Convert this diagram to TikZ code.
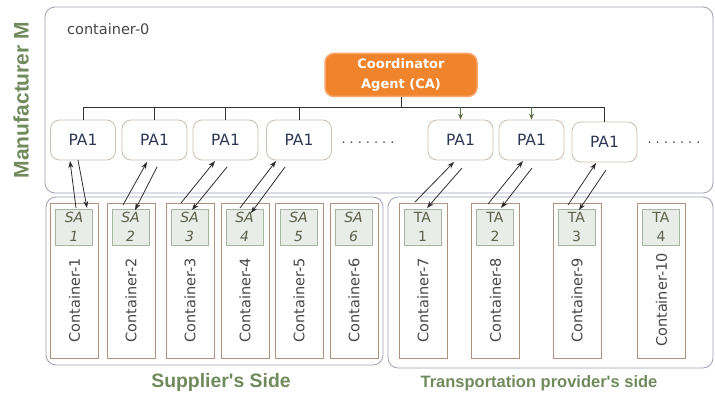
\documentclass[tikz,border=0pt]{standalone}
\usepackage{fontspec}
\setmainfont{DejaVu Sans}
\newfontfamily\lblfont{Liberation Sans}
\usetikzlibrary{calc,arrows.meta}
\definecolor{framegray}{RGB}{160,160,180}
\definecolor{paborder}{RGB}{205,190,178}
\definecolor{contborder}{RGB}{175,145,125}
\definecolor{agfill}{RGB}{232,237,232}
\definecolor{agborder}{RGB}{165,180,160}
\definecolor{caorange}{RGB}{240,132,45}
\definecolor{caborder}{RGB}{250,165,105}
\definecolor{lblgreen}{RGB}{112,138,92}
\definecolor{txtblue}{RGB}{45,55,85}
\definecolor{txtgray}{RGB}{70,70,70}
\definecolor{agtxt}{RGB}{95,95,75}
\definecolor{arrgray}{RGB}{45,45,45}
\definecolor{busgreen}{RGB}{95,115,75}
\tikzset{
  frame/.style={draw=framegray, line width=0.8pt, rounded corners=10pt},
  pabox/.style={draw=paborder, fill=white, line width=0.8pt, rounded corners=9pt,
    minimum width=65pt, minimum height=40pt, inner sep=0pt, font=\fontsize{15.5}{17}\selectfont, text=txtblue},
  contbox/.style={draw=contborder, line width=0.8pt, minimum width=48pt, minimum height=155pt, inner sep=0pt},
  agbox/.style={draw=agborder, fill=agfill, line width=0.6pt, minimum width=37pt, minimum height=36pt,
    inner sep=0pt, align=center, text=agtxt},
  contlbl/.style={rotate=90, font=\fontsize{14.5}{16}\selectfont, text=txtgray, inner sep=0pt},
  dotsstyle/.style={font=\fontsize{13}{15}\selectfont, text=txtgray, inner sep=0pt},
  agarr/.style={draw=arrgray, line width=0.8pt, -{Stealth[length=7pt,width=5pt]}},
  busline/.style={draw=black!80, line width=0.8pt},
  busarr/.style={draw=busgreen, line width=0.8pt, -{Stealth[length=6pt,width=5pt]}},
  sidelbl/.style={text=lblgreen, inner sep=0pt}
}
\begin{document}
\begin{tikzpicture}[x=1pt,y=-1pt]
\useasboundingbox (0,0) rectangle (715,393);
% frames
\draw[frame] (45,7) rectangle (713,193);
\draw[frame] (46,197) rectangle (383,365);
\draw[frame] (388,197) rectangle (713,368);
\node[anchor=west, font=\fontsize{14.5}{16}\selectfont, text=txtgray, inner sep=0pt] (c0) at (67,29) {container-0};
\node[sidelbl, rotate=90, font=\lblfont\bfseries\fontsize{21}{22}\selectfont] (manu) at (21,100) {Manufacturer M};
\node[sidelbl, font=\lblfont\bfseries\fontsize{19.4}{21}\selectfont] (sup) at (221,382) {Supplier's Side};
\node[sidelbl, font=\lblfont\bfseries\fontsize{16.5}{18}\selectfont] (tra) at (539,383) {Transportation provider's side};
% coordinator
\node[draw=caborder, fill=caorange, line width=1.5pt, rounded corners=9pt, minimum width=152pt, minimum height=43pt,
  inner sep=0pt, align=center, text=white, font=\bfseries\fontsize{13}{20}\selectfont] (ca) at (401,75) {Coordinator\\Agent (CA)};
% PA nodes
\node[pabox] (pa1) at (83,140) {PA1};
\node[pabox] (pa2) at (154.5,140) {PA1};
\node[pabox] (pa3) at (225.5,140) {PA1};
\node[pabox] (pa4) at (299,140) {PA1};
\node[dotsstyle] (dots1) at (368,143) {.\hspace{4pt}.\hspace{4pt}.\hspace{4pt}.\hspace{4pt}.\hspace{4pt}.\hspace{4pt}.};
\node[pabox] (pa5) at (460.5,140) {PA1};
\node[pabox] (pa6) at (531.5,140) {PA1};
\node[pabox] (pa7) at (604.5,142) {PA1};
\node[dotsstyle] (dots2) at (674,143) {.\hspace{4pt}.\hspace{4pt}.\hspace{4pt}.\hspace{4pt}.\hspace{4pt}.\hspace{4pt}.};
% bus
\coordinate (bus) at (401,107);
\draw[busline] (pa1.north) |- (bus -| pa7.north) -- (pa7.north);
\draw[busline] (ca.south) -- (bus);
\draw[busline] (pa2.north |- bus) -- (pa2.north);
\draw[busline] (pa3.north |- bus) -- (pa3.north);
\draw[busline] (pa4.north |- bus) -- (pa4.north);
\draw[busarr] (pa5.north |- bus) -- (pa5.north);
\draw[busarr] (pa6.north |- bus) -- (pa6.north);
% containers
\foreach \n/\cx/\lab/\ag/\sty in {1/74.5/Container-1/SA\\1/i, 2/131/Container-2/SA\\2/i,
  3/190/Container-3/SA\\3/i, 4/245/Container-4/SA\\4/i, 5/299/Container-5/SA\\5/i,
  6/354/Container-6/SA\\6/i, 7/423/Container-7/TA\\1/u, 8/495.5/Container-8/TA\\2/u,
  9/577/Container-9/TA\\3/u, 10/661.5/Container-10/TA\\4/u}{
  \node[contbox] (cont\n) at (\cx,280.5) {};
  \node[agbox, anchor=north, font=\if i\sty\itshape\fi\fontsize{14}{19}\selectfont] (ag\n) at (\cx-0.5,209) {\ag};
  \node[contlbl] (lbl\n) at (\cx,300) {\lab};
}
% agent arrows
\coordinate (u1a) at (76,208); \coordinate (u1b) at (70,161);
\coordinate (d1a) at (78,160); \coordinate (d1b) at (87,208);
\coordinate (u2a) at (123,205); \coordinate (u2b) at (147,162);
\coordinate (d2a) at (157,167); \coordinate (d2b) at (135,210);
\coordinate (u3a) at (181,203); \coordinate (u3b) at (215,161);
\coordinate (d3a) at (227,167); \coordinate (d3b) at (192,210);
\coordinate (u4a) at (240,208); \coordinate (u4b) at (276,161);
\coordinate (d4a) at (285,167); \coordinate (d4b) at (251,213);
\coordinate (u7a) at (415,202); \coordinate (u7b) at (454,162);
\coordinate (d7a) at (462,168); \coordinate (d7b) at (427,208);
\coordinate (u8a) at (488,204); \coordinate (u8b) at (523,161);
\coordinate (d8a) at (532,168); \coordinate (d8b) at (501,208);
\coordinate (u9a) at (568,205); \coordinate (u9b) at (596,163);
\coordinate (d9a) at (606,170); \coordinate (d9b) at (579,210);
\foreach \k in {1,2,3,4,7,8,9}{
  \draw[agarr] (u\k a) -- (u\k b);
  \draw[agarr] (d\k a) -- (d\k b);
}
\end{tikzpicture}
\end{document}
